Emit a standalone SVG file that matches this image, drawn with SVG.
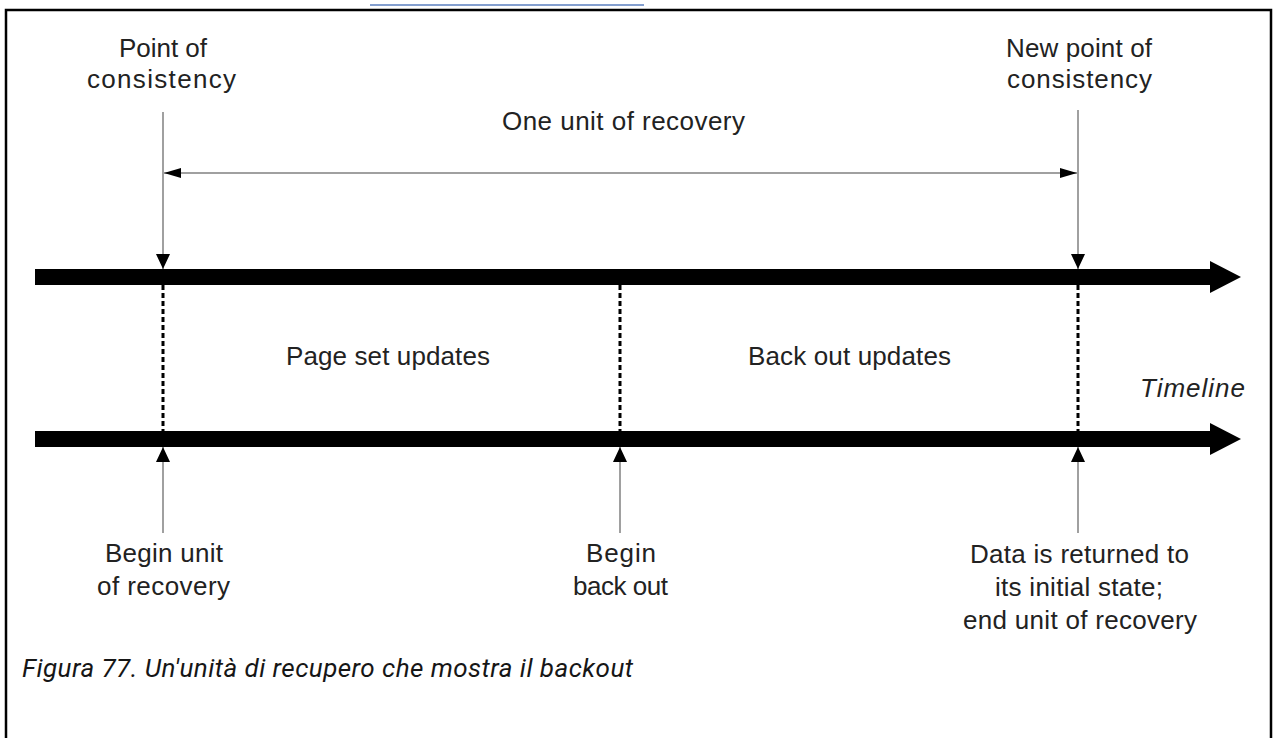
<svg xmlns="http://www.w3.org/2000/svg" width="1274" height="738" viewBox="0 0 1274 738">
  <style>
    .lbl { font-family: "Liberation Sans", Arial, sans-serif; font-size: 26px; fill: #222; }
    .it { font-style: italic; }
    .cap { font-family: Roboto, "Liberation Sans", sans-serif; font-size: 26px; font-style: italic; fill: #161616; }
    .thin { stroke: #808080; stroke-width: 1.5; fill: none; }
    .dash { stroke: #000; stroke-width: 3; stroke-dasharray: 5 3; fill: none; }
    .bar { fill: #000; }
  </style>
  <defs>
    <marker id="vhead" markerUnits="userSpaceOnUse" markerWidth="16" markerHeight="16" refX="15" refY="7" orient="auto">
      <path d="M0,0 L15,7 L0,14 z" fill="#000"/>
    </marker>
    <marker id="hhead" markerUnits="userSpaceOnUse" markerWidth="18" markerHeight="12" refX="17" refY="5" orient="auto-start-reverse">
      <path d="M0,0 L17,5 L0,10 z" fill="#000"/>
    </marker>
  </defs>

  <rect x="0" y="0" width="1274" height="738" fill="#fff"/>

  <!-- page fragment / frame -->
  <line x1="370" y1="5" x2="644" y2="5" stroke="#5b7fbf" stroke-width="1.5"/>
  <path d="M6,740 V10 H1271 V740" fill="none" stroke="#000" stroke-width="2.5"/>

  <!-- timelines -->
  <g id="timeline-top">
    <path class="bar" d="M35,269 H1210 V261 L1241,277 L1210,293 V285 H35 z"/>
  </g>
  <g id="timeline-bottom">
    <path class="bar" d="M35,431 H1210 V423 L1241,439 L1210,455 V447 H35 z"/>
  </g>

  <g id="connectors">
    <line class="thin" x1="163" y1="112" x2="163" y2="269" marker-end="url(#vhead)"/>
    <line class="thin" x1="1078" y1="110" x2="1078" y2="269" marker-end="url(#vhead)"/>
    <line class="thin" x1="164" y1="173" x2="1077" y2="173" marker-start="url(#hhead)" marker-end="url(#hhead)"/>
    <line class="dash" x1="163" y1="285" x2="163" y2="431"/>
    <line class="dash" x1="620" y1="285" x2="620" y2="431"/>
    <line class="dash" x1="1078" y1="285" x2="1078" y2="431"/>
    <line class="thin" x1="163" y1="533" x2="163" y2="447" marker-end="url(#vhead)"/>
    <line class="thin" x1="620" y1="533" x2="620" y2="447" marker-end="url(#vhead)"/>
    <line class="thin" x1="1078" y1="533" x2="1078" y2="447" marker-end="url(#vhead)"/>
  </g>

  <g id="point-of-consistency">
    <text class="lbl" x="119" y="57" textLength="88">Point of</text>
    <text class="lbl" x="87" y="88" textLength="149">consistency</text>
  </g>
  <g id="new-point-of-consistency">
    <text class="lbl" x="1006" y="57" textLength="146">New point of</text>
    <text class="lbl" x="1007" y="88" textLength="145">consistency</text>
  </g>
  <g id="one-unit">
    <text class="lbl" x="502" y="130" textLength="243">One unit of recovery</text>
  </g>
  <g id="page-set-updates">
    <text class="lbl" x="286" y="365" textLength="204">Page set updates</text>
  </g>
  <g id="back-out-updates">
    <text class="lbl" x="748" y="365" textLength="203">Back out updates</text>
  </g>
  <g id="timeline-label">
    <text class="lbl it" x="1140" y="397" textLength="105">Timeline</text>
  </g>
  <g id="begin-unit">
    <text class="lbl" x="105" y="562" textLength="118">Begin unit</text>
    <text class="lbl" x="97" y="595" textLength="133">of recovery</text>
  </g>
  <g id="begin-back-out">
    <text class="lbl" x="586" y="562" textLength="70">Begin</text>
    <text class="lbl" x="573" y="595" textLength="95">back out</text>
  </g>
  <g id="data-returned">
    <text class="lbl" x="970" y="563" textLength="219">Data is returned to</text>
    <text class="lbl" x="995" y="596" textLength="168">its initial state;</text>
    <text class="lbl" x="963" y="629" textLength="234">end unit of recovery</text>
  </g>

  <g id="caption">
    <text class="cap" x="22" y="677" textLength="611">Figura 77. Un'unità di recupero che mostra il backout</text>
  </g>
</svg>
